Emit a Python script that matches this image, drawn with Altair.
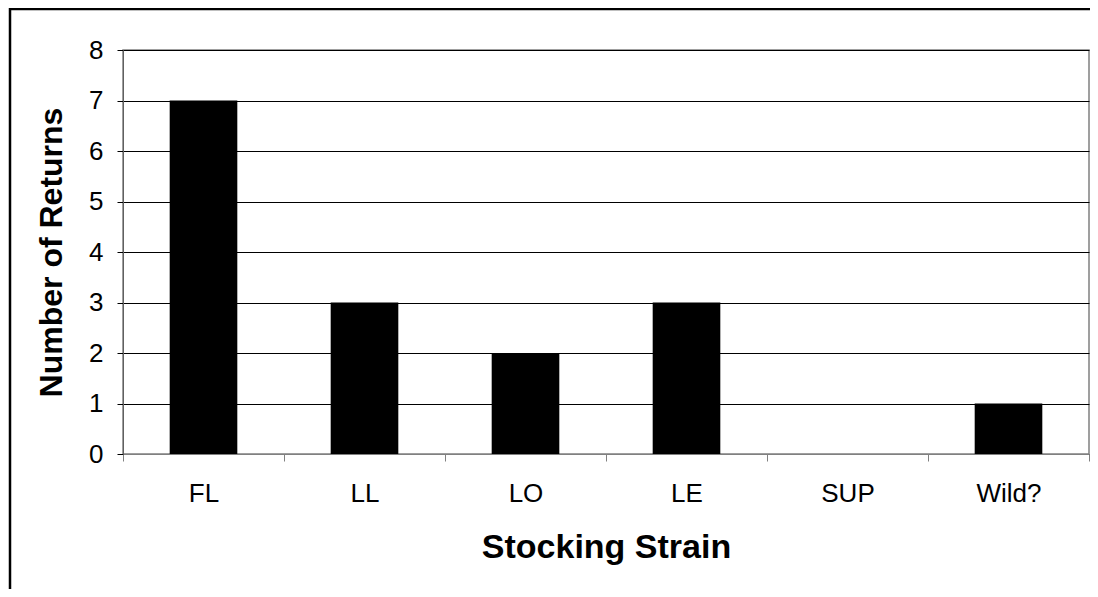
import altair as alt
import pandas as pd

strains = ["FL", "LL", "LO", "LE", "SUP", "Wild?"]
returns = [7, 3, 2, 3, 0, 1]
y_ticks = [0, 1, 2, 3, 4, 5, 6, 7, 8]

df = pd.DataFrame({"strain": strains, "returns": returns})
frame_df = pd.DataFrame({"k": [0]})

W, H = 966, 404
FONT = "Liberation Sans"

bars = alt.Chart(df).mark_bar(color="black", width=alt.RelativeBandSize(0.42)).encode(
    x=alt.X(
        "strain:N",
        sort=strains,
        scale=alt.Scale(paddingInner=0, paddingOuter=0),
        axis=alt.Axis(
            title="Stocking Strain",
            labelAngle=0,
            tickBand="extent",
            tickSize=7,
            tickColor="#808080",
            domainColor="#808080",
            labelFont=FONT,
            labelFontSize=26,
            labelColor="black",
            labelPadding=19,
            titleFont=FONT,
            titleFontSize=34,
            titleFontWeight="bold",
            titleColor="black",
            titlePadding=24,
        ),
    ),
    y=alt.Y(
        "returns:Q",
        scale=alt.Scale(domain=[0, 8], nice=False),
        axis=alt.Axis(
            values=y_ticks,
            title="Number of Returns",
            grid=True,
            gridColor="black",
            gridWidth=1,
            gridOpacity=1,
            tickSize=6,
            tickColor="black",
            domainColor="#606060",
            labelFont=FONT,
            labelFontSize=26,
            labelColor="black",
            labelPadding=14,
            titleFont=FONT,
            titleFontSize=32,
            titleFontWeight="bold",
            titleColor="black",
            titlePadding=20,
        ),
    ),
)

frame = alt.Chart(frame_df).mark_rect(
    fill="transparent", stroke="black", strokeWidth=2.5
).encode(
    x=alt.value(-113),
    y=alt.value(-41),
    x2=alt.value(W + 40),
    y2=alt.value(H + 200),
)

chart = (
    alt.layer(bars, frame)
    .properties(
        width=W,
        height=H,
        autosize=alt.AutoSizeParams(type="none"),
        padding={"left": 115, "top": 42, "right": 1, "bottom": 135},
        background="white",
    )
    .configure_view(stroke="#808080", strokeWidth=1.5)
)

chart.save("out.html", embed_options={"renderer": "svg", "actions": False})
